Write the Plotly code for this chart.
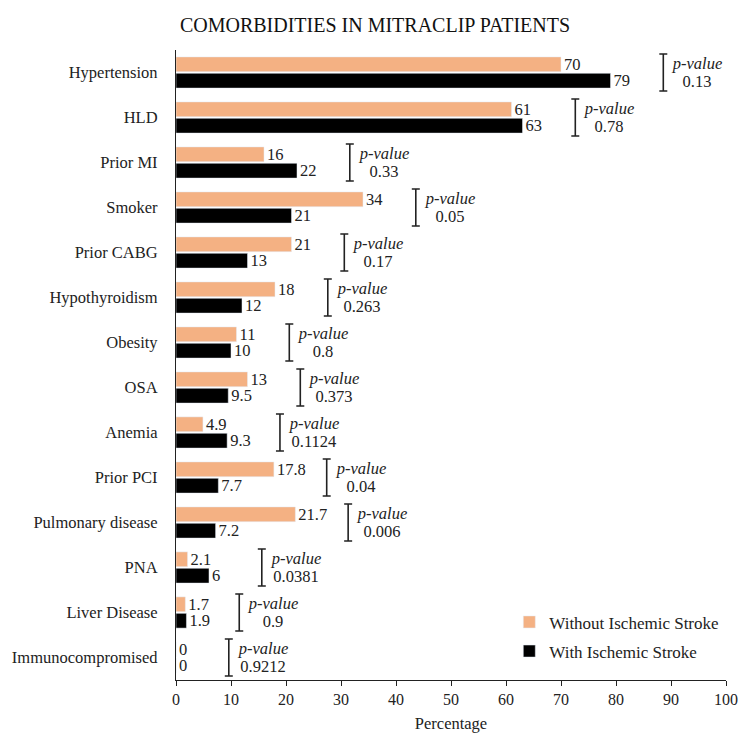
import plotly.graph_objects as go

categories = ["Hypertension", "HLD", "Prior MI", "Smoker", "Prior CABG", "Hypothyroidism",
              "Obesity", "OSA", "Anemia", "Prior PCI", "Pulmonary disease", "PNA",
              "Liver Disease", "Immunocompromised"]
without_stroke = [70, 61, 16, 34, 21, 18, 11, 13, 4.9, 17.8, 21.7, 2.1, 1.7, 0]
with_stroke = [79, 63, 22, 21, 13, 12, 10, 9.5, 9.3, 7.7, 7.2, 6, 1.9, 0]
p_values = ["0.13", "0.78", "0.33", "0.05", "0.17", "0.263", "0.8", "0.373", "0.1124",
            "0.04", "0.006", "0.0381", "0.9", "0.9212"]

FONT = "Liberation Serif, Times New Roman, serif"
idx = list(range(len(categories)))

def fmt(v):
    return f"{v:g}"

fig = go.Figure()
fig.add_trace(go.Bar(
    y=idx, x=without_stroke, orientation="h", name="Without Ischemic Stroke",
    marker=dict(color="#F4B183"), text=[fmt(v) for v in without_stroke],
    textposition="outside", constraintext="none", cliponaxis=False,
    textfont=dict(family=FONT, size=16.5, color="#222"), legendgroup="a",
))
fig.add_trace(go.Bar(
    y=idx, x=with_stroke, orientation="h", name="With Ischemic Stroke",
    marker=dict(color="#000000"), text=[fmt(v) for v in with_stroke],
    textposition="outside", constraintext="none", cliponaxis=False,
    textfont=dict(family=FONT, size=16.5, color="#222"), legendgroup="b",
))

bracket_x = [max(a, b) + 9.6 for a, b in zip(without_stroke, with_stroke)]
fig.add_trace(go.Scatter(
    x=bracket_x, y=idx, mode="markers", marker=dict(size=1, color="rgba(0,0,0,0)"),
    error_y=dict(type="constant", value=0.41, color="#222", thickness=1.6, width=4),
    showlegend=False, hoverinfo="skip", cliponaxis=False,
))

for i, (bx, p) in enumerate(zip(bracket_x, p_values)):
    fig.add_annotation(
        x=bx, y=i, xref="x", yref="y", xanchor="left", yanchor="middle",
        xshift=6, yshift=9, showarrow=False, width=52, align="center",
        text="<i>p-value</i>",
        font=dict(family=FONT, size=16.5, color="#222"),
    )
    fig.add_annotation(
        x=bx, y=i, xref="x", yref="y", xanchor="left", yanchor="middle",
        xshift=6, yshift=-9, showarrow=False, width=52, align="center",
        text=p,
        font=dict(family=FONT, size=16.5, color="#222"),
    )

fig.update_layout(
    width=750, height=750,
    margin=dict(l=175, r=23, t=50, b=70),
    paper_bgcolor="white", plot_bgcolor="white",
    barmode="group", bargap=0.27, bargroupgap=0.1,
    title=dict(text="COMORBIDITIES IN MITRACLIP PATIENTS", x=0.5, xanchor="center",
               y=0.967, yanchor="middle",
               font=dict(family=FONT, size=20, color="#111")),
    font=dict(family=FONT, size=16, color="#222"),
    xaxis=dict(range=[0, 100], dtick=10, showgrid=False, showline=True,
               linecolor="#222", linewidth=1.2, ticks="outside", ticklen=5,
               tickcolor="#222", zeroline=False,
               title=dict(text="Percentage", font=dict(family=FONT, size=16.5), standoff=10),
               tickfont=dict(family=FONT, size=16)),
    yaxis=dict(tickvals=idx, ticktext=categories, range=[13.5, -0.5],
               showgrid=False, showline=True, linecolor="#222", linewidth=1.2,
               ticks="", zeroline=False, ticklabelstandoff=14,
               tickfont=dict(family=FONT, size=16.5)),
    legend=dict(x=0.606, y=0.12, xanchor="left", yanchor="top",
                font=dict(family=FONT, size=17, color="#222"),
                bgcolor="rgba(0,0,0,0)", tracegroupgap=4, itemwidth=30),
)

fig.write_html("out.html")
